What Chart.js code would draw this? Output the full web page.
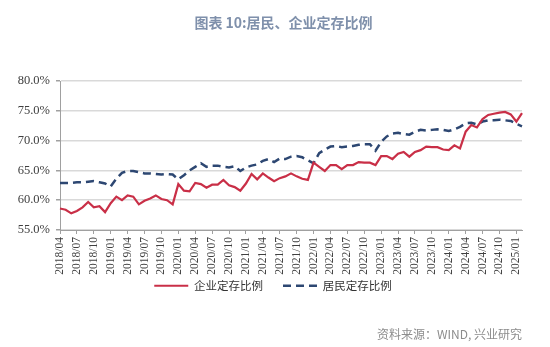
<!DOCTYPE html>
<html>
<head>
<meta charset="utf-8">
<script src="https://cdn.jsdelivr.net/npm/chart.js@4.4.1/dist/chart.umd.min.js"></script>
<style>
html,body{margin:0;padding:0;background:#fff;}
#wrap{position:relative;width:550px;height:347px;}
</style>
</head>
<body>
<div id="wrap"><canvas id="c" width="550" height="347"></canvas></div>
<script>
const TITLE = "图表 10:居民、企业定存比例";
const SOURCE = "资料来源：WIND, 兴业研究";
const SERIES_NAMES = ["企业定存比例", "居民定存比例"];

const months = [
  "2018/04","2018/05","2018/06","2018/07","2018/08","2018/09","2018/10","2018/11","2018/12",
  "2019/01","2019/02","2019/03","2019/04","2019/05","2019/06","2019/07","2019/08","2019/09","2019/10","2019/11","2019/12",
  "2020/01","2020/02","2020/03","2020/04","2020/05","2020/06","2020/07","2020/08","2020/09","2020/10","2020/11","2020/12",
  "2021/01","2021/02","2021/03","2021/04","2021/05","2021/06","2021/07","2021/08","2021/09","2021/10","2021/11","2021/12",
  "2022/01","2022/02","2022/03","2022/04","2022/05","2022/06","2022/07","2022/08","2022/09","2022/10","2022/11","2022/12",
  "2023/01","2023/02","2023/03","2023/04","2023/05","2023/06","2023/07","2023/08","2023/09","2023/10","2023/11","2023/12",
  "2024/01","2024/02","2024/03","2024/04","2024/05","2024/06","2024/07","2024/08","2024/09","2024/10","2024/11","2024/12",
  "2025/01","2025/02"
];

// 企业定存比例 (%)
const corporate = [
  58.6,58.4,57.8,58.2,58.8,59.7,58.8,59.0,58.0,
  59.5,60.6,60.0,60.8,60.6,59.3,59.9,60.3,60.8,60.2,60.0,59.3,
  62.7,61.6,61.5,62.9,62.7,62.1,62.6,62.6,63.4,62.5,62.2,61.6,
  62.8,64.4,63.5,64.5,63.8,63.2,63.7,64.0,64.5,64.0,63.6,63.4,
  66.3,65.6,64.9,65.9,65.9,65.2,65.9,65.9,66.4,66.3,66.3,65.9,
  67.4,67.4,66.9,67.8,68.1,67.3,68.1,68.4,69.0,68.9,68.9,68.5,
  68.4,69.2,68.7,71.5,72.6,72.2,73.6,74.3,74.5,74.7,74.8,74.4,
  73.2,74.6
];

// 居民定存比例 (%)
const household = [
  62.9,62.9,62.9,63.0,63.0,63.1,63.2,63.0,62.8,
  62.3,63.6,64.6,64.9,64.9,64.7,64.5,64.5,64.4,64.3,64.4,64.3,
  63.5,64.2,65.0,65.6,66.2,65.6,65.8,65.8,65.6,65.5,65.7,64.9,
  65.5,65.8,66.0,66.6,66.9,66.4,67.0,66.9,67.3,67.4,67.2,66.7,
  66.2,67.9,68.5,69.0,69.1,68.9,69.0,69.1,69.3,69.4,69.4,68.3,
  69.8,70.7,71.2,71.3,71.1,71.0,71.5,71.8,71.7,71.8,71.9,71.8,
  71.6,71.9,72.3,72.9,73.0,72.7,73.2,73.4,73.4,73.5,73.4,73.3,
  72.8,72.4
];

const yTicks = [55, 60, 65, 70, 75, 80];
const LABEL_EVERY = 3;

const textPlugin = {
  id: 'texts',
  afterDraw(chart) {
    const c = chart.ctx;
    c.save();
    c.font = 'bold 14px "Noto Sans CJK SC"';
    c.fillStyle = '#7f90ab';
    c.textAlign = 'center';
    c.textBaseline = 'middle';
    c.fillText(TITLE, 283.5, 23);
    c.font = '12px "Noto Sans CJK SC"';
    c.fillStyle = '#8c8c8c';
    c.textAlign = 'right';
    c.fillText(SOURCE, 522, 334);
    c.restore();
  }
};

// place the legend box just under the rotated labels, centred like the reference
const legendPlace = {
  id: 'legendPlace',
  afterLayout(chart) {
    const lg = chart.legend;
    if (!lg) return;
    const h = lg.height;
    lg.top = 260;
    lg.bottom = 260 + h;
    lg.left = 24;
    lg.right = 522;
    lg.width = 498;
  }
};

new Chart(document.getElementById('c'), {
  type: 'line',
  data: {
    labels: months,
    datasets: [
      {
        label: SERIES_NAMES[0],
        data: corporate,
        borderColor: '#c92f47',
        backgroundColor: '#c92f47',
        borderWidth: 2.2,
        pointRadius: 0,
        tension: 0,
        fill: false
      },
      {
        label: SERIES_NAMES[1],
        data: household,
        borderColor: '#2d4772',
        backgroundColor: '#2d4772',
        borderWidth: 2.5,
        borderDash: [8, 5],
        pointRadius: 0,
        tension: 0,
        fill: false
      }
    ]
  },
  options: {
    responsive: false,
    animation: false,
    devicePixelRatio: 1,
    layout: { padding: { top: 81, left: 6, right: 28, bottom: 27.5 } },
    plugins: {
      title: { display: false },
      tooltip: { enabled: false },
      legend: {
        display: true,
        position: 'bottom',
        labels: {
          usePointStyle: true,
          pointStyle: 'line',
          pointStyleWidth: 34,
          padding: 20,
          color: '#333',
          font: { family: '"Noto Sans CJK SC"', size: 11.5 },
          generateLabels(chart) {
            const items = Chart.defaults.plugins.legend.labels.generateLabels(chart);
            items.forEach((it) => {
              const ds = chart.data.datasets[it.datasetIndex];
              it.lineDash = ds.borderDash || [];
              it.lineDashOffset = 0;
              it.lineWidth = ds.borderWidth;
              it.strokeStyle = ds.borderColor;
              it.fillStyle = ds.borderColor;
              it.pointStyle = 'line';
            });
            return items;
          }
        }
      }
    },
    scales: {
      x: {
        type: 'category',
        afterFit: (s) => { s.height = 48; },
        grid: {
          drawOnChartArea: false,
          drawTicks: true,
          tickLength: 4,
          tickColor: (ctx) => (ctx.index % LABEL_EVERY === 0 ? '#a0a0a0' : 'rgba(0,0,0,0)')
        },
        border: { display: true, color: '#a0a0a0', width: 1 },
        ticks: {
          autoSkip: false,
          maxRotation: 90,
          minRotation: 90,
          padding: 3,
          color: '#404040',
          font: { family: '"Liberation Serif"', size: 11.5 },
          callback: function (value, index) {
            return index % LABEL_EVERY === 0 ? months[index] : '';
          }
        }
      },
      y: {
        min: yTicks[0],
        max: yTicks[yTicks.length - 1],
        afterFit: (s) => { s.width = 54; },
        afterBuildTicks: (s) => { s.ticks = yTicks.map(v => ({ value: v })); },
        grid: {
          color: '#d9d9d9',
          lineWidth: 1.5,
          drawTicks: true,
          tickLength: 4,
          tickColor: '#a0a0a0'
        },
        border: { display: true, color: '#a0a0a0', width: 1 },
        ticks: {
          padding: 6,
          color: '#404040',
          font: { family: '"Liberation Serif"', size: 12.5 },
          callback: (v) => Number(v).toFixed(1) + '%'
        }
      }
    }
  },
  plugins: [textPlugin, legendPlace]
});
</script>
</body>
</html>
